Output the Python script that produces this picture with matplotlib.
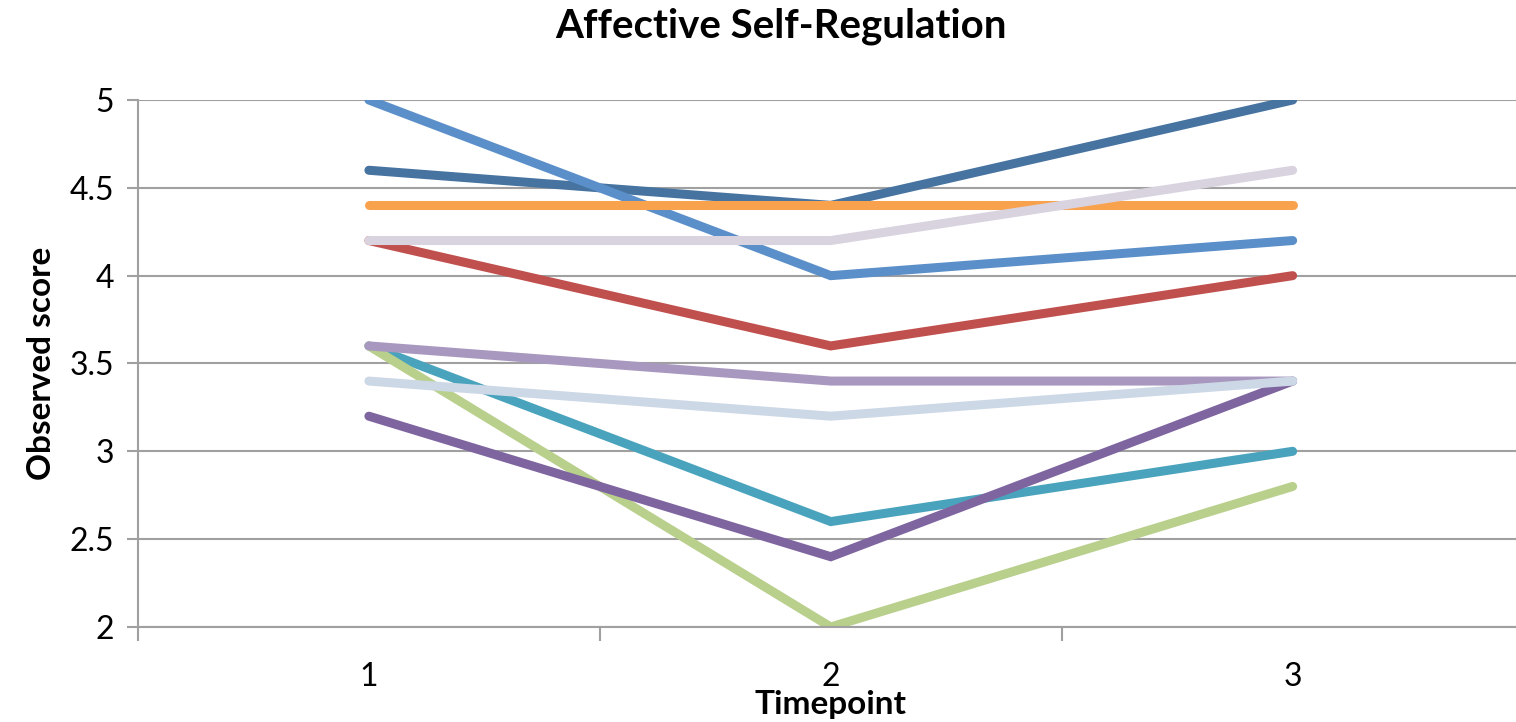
import matplotlib

matplotlib.use("Agg")
import matplotlib.pyplot as plt

plt.rcParams["font.family"] = ["Lato", "DejaVu Sans"]

# ── data ──────────────────────────────────────────
timepoints = [1, 2, 3]

# drawn bottom to top, in this order
series_values = [
    [4.6, 4.4, 5.0],
    [5.0, 4.0, 4.2],
    [4.4, 4.4, 4.4],
    [3.6, 2.6, 3.0],
    [3.6, 2.0, 2.8],
    [4.2, 3.6, 4.0],
    [3.2, 2.4, 3.4],
    [3.6, 3.4, 3.4],
    [3.4, 3.2, 3.4],
    [4.2, 4.2, 4.6],
]
series_colors = [
    "#4673a0", "#5b8fc9", "#f9a24e", "#4aa3bd", "#b9cf8c",
    "#c0504d", "#7e65a0", "#a898bf", "#cdd8e6", "#d9d3e0",
]
y_ticks = [2, 2.5, 3, 3.5, 4, 4.5, 5]
y_tick_labels = ["2", "2.5", "3", "3.5", "4", "4.5", "5"]

GRID = "#a0a0a0"

fig = plt.figure(figsize=(15.16, 7.22), dpi=100)
ax = fig.add_axes([0.091, 0.1316, 0.914, 0.7299])

for vals, c in zip(series_values, series_colors):
    ax.plot(timepoints, vals, color=c, lw=6.5,
            solid_capstyle="round", solid_joinstyle="miter")

ax.set_xlim(0.5, 3.5)
ax.set_ylim(2, 5)
ax.set_yticks(y_ticks)
ax.set_yticklabels(y_tick_labels)
ax.set_xticks(timepoints)
ax.set_xticklabels([str(t) for t in timepoints])
ax.set_xticks([0.5, 1.5, 2.5, 3.5], minor=True)

ax.yaxis.grid(True, color=GRID, lw=1.5)
ax.set_axisbelow(True)
for s in ("top", "right"):
    ax.spines[s].set_visible(False)
for s in ("left", "bottom"):
    ax.spines[s].set_color(GRID)
    ax.spines[s].set_linewidth(1.5)

ax.tick_params(axis="y", length=8, width=1.5, color=GRID, pad=9,
               labelsize=23)
ax.tick_params(axis="x", which="major", length=0, pad=25, labelsize=23)
ax.tick_params(axis="x", which="minor", length=10, width=1.5, color=GRID)

ax.set_xlabel("Timepoint", fontsize=24, fontweight="bold", labelpad=-1)
ax.set_ylabel("Observed score", fontsize=24, fontweight="bold", labelpad=10)
fig.suptitle("Affective Self-Regulation", fontsize=29, fontweight="bold",
             x=0.515, y=0.99)

fig.savefig("out.png", dpi=100)
